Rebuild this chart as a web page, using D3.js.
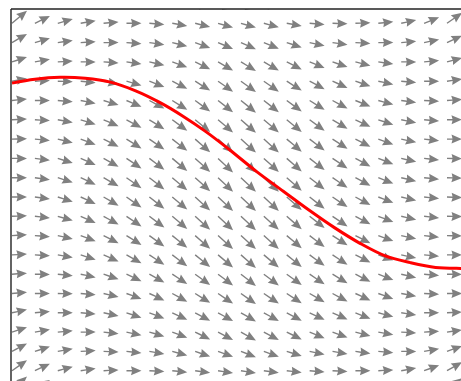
<!DOCTYPE html>
<html>
<head>
<meta charset="utf-8">
<script src="https://cdn.jsdelivr.net/npm/d3@7"></script>
<style>
  html, body { margin: 0; padding: 0; background: #fff; }
  svg { display: block; }
</style>
</head>
<body>
<svg id="chart" width="461" height="381"></svg>
<script>
// grid of the direction field (data units)
const gridX = [0, 0.2, 0.4, 0.6, 0.8, 1.0, 1.2, 1.4, 1.6, 1.8, 2.0, 2.2, 2.4, 2.6, 2.8, 3.0, 3.2, 3.4, 3.6, 3.8];
const gridY = [2.0, 1.8, 1.6, 1.4, 1.2, 1.0, 0.8, 0.6, 0.4, 0.2, 0.0, -0.2, -0.4, -0.6, -0.8, -1.0, -1.2, -1.4, -1.6, -1.8, -2.0];

// arrow direction in degrees (0 = pointing right, positive = up), one row per gridY value
const angleRows = [
  [48, 36, 26, 20, 14, 8, 2, -6, -12, -16, -16, -12, -6, 3, 6, 10, 14, 20, 30, 42],
  [40, 26, 16, 10, 5, 0, -5, -10, -14, -16, -16, -15, -10, -5, -2, 2, 6, 12, 22, 35],
  [30, 16, 8, 3, 0, -4, -8, -14, -20, -23, -24, -22, -18, -12, -8, -3, 0, 5, 12, 25],
  [18, 10, 3, 0, -4, -8, -13, -20, -26, -30, -31, -30, -27, -22, -19, -14, -8, 0, 5, 15],
  [10, 3, -2, -6, -11, -16, -21, -27, -32, -35, -36, -35, -32, -28, -24, -19, -12, -5, 0, 8],
  [6, 0, -5, -11, -17, -23, -28, -32, -36, -38, -39, -38, -36, -32, -28, -22, -15, -8, -3, 4],
  [3, -3, -10, -17, -23, -28, -32, -36, -39, -40, -41, -40, -39, -36, -31, -25, -18, -11, -5, 1],
  [1, -5, -14, -21, -27, -32, -35, -38, -41, -42, -42, -42, -40, -37, -33, -27, -20, -12, -6, 0],
  [0, -7, -17, -24, -29, -34, -37, -40, -42, -43, -43, -42, -41, -38, -34, -28, -21, -13, -6, -1],
  [0, -8, -18, -25, -30, -35, -38, -40, -42, -43, -43, -43, -41, -38, -34, -28, -21, -13, -6, -2],
  [0, -8, -18, -25, -30, -35, -38, -40, -42, -43, -43, -43, -41, -38, -34, -28, -21, -13, -6, -2],
  [2, -6, -16, -24, -29, -34, -37, -40, -42, -43, -43, -42, -41, -38, -34, -28, -21, -13, -6, -1],
  [3, -4, -13, -21, -27, -32, -36, -39, -41, -42, -42, -42, -40, -37, -33, -27, -20, -12, -6, -1],
  [3, -3, -10, -18, -24, -29, -33, -37, -39, -40, -41, -40, -39, -36, -33, -27, -20, -12, -5, 0],
  [4, -1, -6, -12, -19, -25, -29, -33, -36, -37, -38, -37, -36, -34, -31, -27, -21, -13, -5, -1],
  [5, 0, -1, -5, -13, -20, -25, -29, -32, -34, -35, -34, -33, -30, -28, -25, -20, -10, -3, 0],
  [12, 5, 0, -5, -12, -18, -21, -25, -28, -29, -30, -29, -28, -25, -24, -22, -15, -8, 0, 3],
  [18, 10, 5, 0, -6, -12, -16, -21, -26, -28, -29, -28, -26, -22, -20, -15, -10, -3, 3, 8],
  [28, 18, 10, 3, -2, -6, -10, -15, -19, -20, -21, -20, -17, -12, -10, -8, -5, 0, 10, 20],
  [35, 25, 15, 8, 3, 0, -3, -6, -8, -9, -9, -8, -7, -5, -3, 0, 3, 10, 20, 30],
  [42, 34, 25, 18, 12, 8, 5, 3, 2, 1, 1, 2, 4, 6, 9, 12, 16, 22, 30, 38]
];

// solution curve (red)
const curveX = [0.0, 0.2, 0.42, 0.64, 0.86, 1.08, 1.29, 1.49, 1.69, 1.9, 2.14, 2.37, 2.6, 2.82, 3.04, 3.26, 3.48, 3.7, 3.92, 4.0];
const curveY = [1.18, 1.22, 1.24, 1.23, 1.19, 1.10, 0.98, 0.84, 0.68, 0.49, 0.26, 0.06, -0.14, -0.32, -0.48, -0.61, -0.68, -0.73, -0.74, -0.74];

const svg = d3.select('#chart');
const margin = { top: 9, left: 11 };
const plotW = 470, plotH = 400;

const x = d3.scaleLinear().domain([0, 3.8]).range([12, 447]);
const y = d3.scaleLinear().domain([2, -2]).range([4, 390]);

svg.append('defs').append('clipPath')
  .attr('id', 'plotclip')
  .append('rect')
  .attr('x', margin.left)
  .attr('y', margin.top)
  .attr('width', plotW)
  .attr('height', plotH);

const g = svg.append('g').attr('clip-path', 'url(#plotclip)');

// quiver-like arrows: vector (1, slope), so every arrow spans the same width
const spanX = 15, headLen = 10.5, headAxis = 9.5, headHalf = 4.5, shaftHalf = 0.7;
function arrowPath(angle) {
  const L = spanX / Math.cos(angle * Math.PI / 180);
  return `M0,${-shaftHalf}L${L - headAxis},${-shaftHalf}L${L - headLen},${-headHalf}L${L},0` +
    `L${L - headLen},${headHalf}L${L - headAxis},${shaftHalf}L0,${shaftHalf}Z`;
}

const arrows = [];
gridY.forEach((yv, j) => {
  gridX.forEach((xv, i) => {
    arrows.push({ x: xv, y: yv, angle: angleRows[j][i] });
  });
});

g.selectAll('.arrow')
  .data(arrows)
  .join('path')
  .attr('class', 'arrow')
  .attr('d', d => arrowPath(d.angle))
  .attr('transform', d => `translate(${x(d.x)},${y(d.y)}) rotate(${-d.angle})`)
  .attr('fill', '#808080');

const line = d3.line()
  .x((d, i) => x(curveX[i]))
  .y(d => y(d))
  .curve(d3.curveCatmullRom);

g.append('path')
  .datum(curveY)
  .attr('d', line)
  .attr('fill', 'none')
  .attr('stroke', '#ff0000')
  .attr('stroke-width', 3);

// spines (only left and top are inside the picture)
svg.append('line')
  .attr('x1', margin.left).attr('x2', margin.left)
  .attr('y1', margin.top).attr('y2', 381)
  .attr('stroke', '#222').attr('stroke-width', 1.4);
svg.append('line')
  .attr('x1', margin.left).attr('x2', 461)
  .attr('y1', margin.top).attr('y2', margin.top)
  .attr('stroke', '#222').attr('stroke-width', 1.4);
</script>
</body>
</html>
